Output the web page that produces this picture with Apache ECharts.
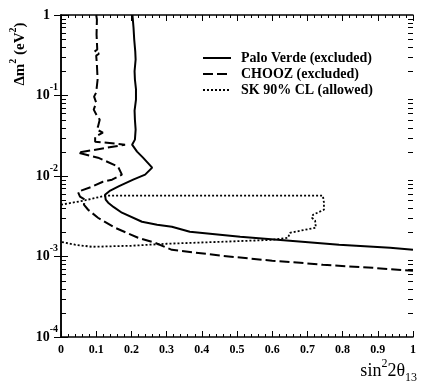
<!DOCTYPE html>
<html>
<head>
<meta charset="utf-8">
<script src="https://cdn.jsdelivr.net/npm/echarts@6/dist/echarts.min.js"></script>
<style>
html, body { margin: 0; padding: 0; background: #fff; }
#main { width: 434px; height: 382px; }
</style>
</head>
<body>
<div id="main"></div>
<script>
// 曲线数据 [sin^2 2θ13, Δm^2 (eV^2)]
const paloVerde = [
    [0.203, 1], [0.206, 0.70], [0.208, 0.496], [0.211, 0.35], [0.212, 0.28],
    [0.209, 0.20], [0.210, 0.158], [0.213, 0.12], [0.213, 0.089], [0.209, 0.065],
    [0.210, 0.050], [0.212, 0.0377], [0.210, 0.0283], [0.202, 0.0245], [0.216, 0.0201],
    [0.233, 0.0169], [0.259, 0.0127], [0.239, 0.0104], [0.205, 0.0090], [0.165, 0.0075],
    [0.140, 0.0066], [0.125, 0.00585], [0.127, 0.0051], [0.134, 0.00466], [0.150, 0.0041],
    [0.173, 0.0035], [0.230, 0.0027], [0.273, 0.00248], [0.315, 0.00234], [0.366, 0.00203],
    [0.509, 0.00176], [0.650, 0.00157], [0.790, 0.00140], [0.935, 0.00128], [1.0, 0.00121]
];
const chooz = [
    [0.100, 1], [0.102, 0.879], [0.101, 0.572], [0.103, 0.372], [0.095, 0.35],
    [0.108, 0.33], [0.100, 0.313], [0.102, 0.242], [0.104, 0.158], [0.100, 0.109],
    [0.094, 0.0969], [0.100, 0.0816], [0.093, 0.0668], [0.102, 0.0562], [0.110, 0.0501],
    [0.105, 0.0410], [0.102, 0.0377], [0.119, 0.0346], [0.097, 0.0308], [0.097, 0.0267],
    [0.182, 0.0245], [0.048, 0.0195], [0.105, 0.0169], [0.162, 0.0131], [0.173, 0.0104],
    [0.145, 0.0090], [0.119, 0.00849], [0.088, 0.00736], [0.048, 0.00638], [0.054, 0.00553],
    [0.068, 0.00507], [0.065, 0.00440], [0.077, 0.00381], [0.105, 0.00303], [0.153, 0.00228],
    [0.219, 0.00171], [0.267, 0.00148], [0.315, 0.00121], [0.46, 0.00102], [0.60, 0.000885],
    [0.68, 0.000836], [0.744, 0.000789], [0.886, 0.000723], [1.0, 0.000663]
];
const skAllowed = [
    [0, 0.0044], [0.063, 0.00493], [0.125, 0.00569], [0.40, 0.00569], [0.744, 0.00569],
    [0.747, 0.00466], [0.747, 0.00381], [0.716, 0.0033], [0.713, 0.00303], [0.722, 0.00278],
    [0.724, 0.00228], [0.650, 0.00197], [0.645, 0.00171], [0.600, 0.00161], [0.450, 0.00152],
    [0.300, 0.00144], [0.200, 0.00136], [0.088, 0.00132], [0.040, 0.00140], [0, 0.00152]
];
const seriesNames = ["Palo Verde (excluded)", "CHOOZ (excluded)", "SK 90% CL (allowed)"];

// y轴次刻度 (对数轴 2..9 × 10^n)
const yMinor = [];
for (let e = -4; e < 0; e++) {
    for (let k = 2; k <= 9; k++) yMinor.push([0.5, k * Math.pow(10, e)]);
}

const font = "Liberation Serif";
let myChart = echarts.init(document.getElementById('main'));
let option = {
    animation: false,
    grid: { left: 61, right: 21, top: 15, bottom: 45 },
    legend: {
        orient: 'vertical',
        left: 197,
        top: 46,
        itemWidth: 28,
        itemHeight: 12,
        itemGap: 2,
        data: seriesNames,
        itemStyle: { opacity: 0 },
        textStyle: { fontFamily: font, fontWeight: 'bold', fontSize: 14, color: '#000', padding: [0, 0, 0, 5] }
    },
    xAxis: [{
        type: 'value', min: 0, max: 1, interval: 0.1,
        axisLine: { lineStyle: { color: '#000', width: 1.5 } },
        axisTick: { inside: true, length: 6, lineStyle: { color: '#000' } },
        minorTick: { show: true, splitNumber: 5, length: 3, lineStyle: { color: '#000' } },
        splitLine: { show: false },
        axisLabel: {
            margin: 7, color: '#000', fontFamily: font, fontWeight: 'bold', fontSize: 12,
            formatter: v => (v === 0 || v === 1) ? String(v) : v.toFixed(1)
        }
    }, {
        type: 'value', min: 0, max: 1, interval: 0.1, position: 'top',
        axisLine: { lineStyle: { color: '#000', width: 1.5 } },
        axisTick: { inside: true, length: 6, lineStyle: { color: '#000' } },
        minorTick: { show: true, splitNumber: 5, length: 3, lineStyle: { color: '#000' } },
        splitLine: { show: false },
        axisLabel: { show: false }
    }],
    yAxis: [{
        type: 'log', logBase: 10, min: 1e-4, max: 1,
        axisLine: { lineStyle: { color: '#000', width: 1.5 } },
        axisTick: { inside: true, length: 7, lineStyle: { color: '#000' } },
        splitLine: { show: false },
        axisLabel: {
            margin: 3, color: '#000',
            formatter: v => v >= 1 ? '{one|1}' : '{b|10}{s|' + Math.round(Math.log10(v)) + '}',
            rich: {
                b: { fontFamily: font, fontWeight: 'bold', fontSize: 14, lineHeight: 26, color: '#000' },
                s: { fontFamily: font, fontWeight: 'bold', fontSize: 10, lineHeight: 8, verticalAlign: 'top', color: '#000' },
                one: { fontFamily: font, fontWeight: 'bold', fontSize: 14, lineHeight: 26, color: '#000', padding: [0, 8, 0, 0] }
            }
        }
    }, {
        type: 'log', logBase: 10, min: 1e-4, max: 1, position: 'right',
        axisLine: { lineStyle: { color: '#000', width: 1.5 } },
        axisTick: { inside: true, length: 7, lineStyle: { color: '#000' } },
        splitLine: { show: false },
        axisLabel: { show: false }
    }],
    graphic: [{
        type: 'text', x: 20, y: 54, rotation: Math.PI / 2,
        style: {
            text: '{a|Δm}{s|2}{a| (eV}{s|2}{a|)}',
            align: 'center', verticalAlign: 'middle',
            rich: {
                a: { fontFamily: font, fontWeight: 'bold', fontSize: 15, lineHeight: 24, fill: '#000' },
                s: { fontFamily: font, fontWeight: 'bold', fontSize: 10, lineHeight: 8, verticalAlign: 'top', fill: '#000' }
            }
        }
    }, {
        type: 'text', x: 417, y: 371,
        style: {
            text: '{a|sin}{s|2}{a|2θ}{b|13}',
            align: 'right', verticalAlign: 'middle',
            rich: {
                a: { fontFamily: font, fontSize: 18, lineHeight: 26, fill: '#000' },
                s: { fontFamily: font, fontSize: 12, lineHeight: 8, verticalAlign: 'top', fill: '#000' },
                b: { fontFamily: font, fontSize: 12, lineHeight: 14, verticalAlign: 'bottom', fill: '#000' }
            }
        }
    }],
    series: [{
        name: seriesNames[0], type: 'line', data: paloVerde, symbol: 'none',
        lineStyle: { color: '#000', width: 2, type: 'solid' }, itemStyle: { color: '#000' }
    }, {
        name: seriesNames[1], type: 'line', data: chooz, symbol: 'none',
        lineStyle: { color: '#000', width: 2, type: [10, 4] }, itemStyle: { color: '#000' }
    }, {
        name: seriesNames[2], type: 'line', data: skAllowed, symbol: 'none',
        lineStyle: { color: '#000', width: 1.8, type: [2, 2] }, itemStyle: { color: '#000' }
    }, {
        // 对数轴次刻度
        type: 'custom', data: yMinor, silent: true, clip: false, z: 5,
        renderItem: function (params, api) {
            const v = api.value(1);
            const l = api.coord([0, v]);
            const r = api.coord([1, v]);
            const y = Math.round(l[1]) + 0.5;
            return {
                type: 'group', children: [
                    { type: 'line', shape: { x1: l[0], y1: y, x2: l[0] + 5, y2: y }, style: { stroke: '#000', lineWidth: 1 } },
                    { type: 'line', shape: { x1: r[0] - 5, y1: y, x2: r[0], y2: y }, style: { stroke: '#000', lineWidth: 1 } }
                ]
            };
        }
    }]
};
myChart.setOption(option);
window.addEventListener("resize", function () {
    myChart.resize();
});
</script>
</body>
</html>
